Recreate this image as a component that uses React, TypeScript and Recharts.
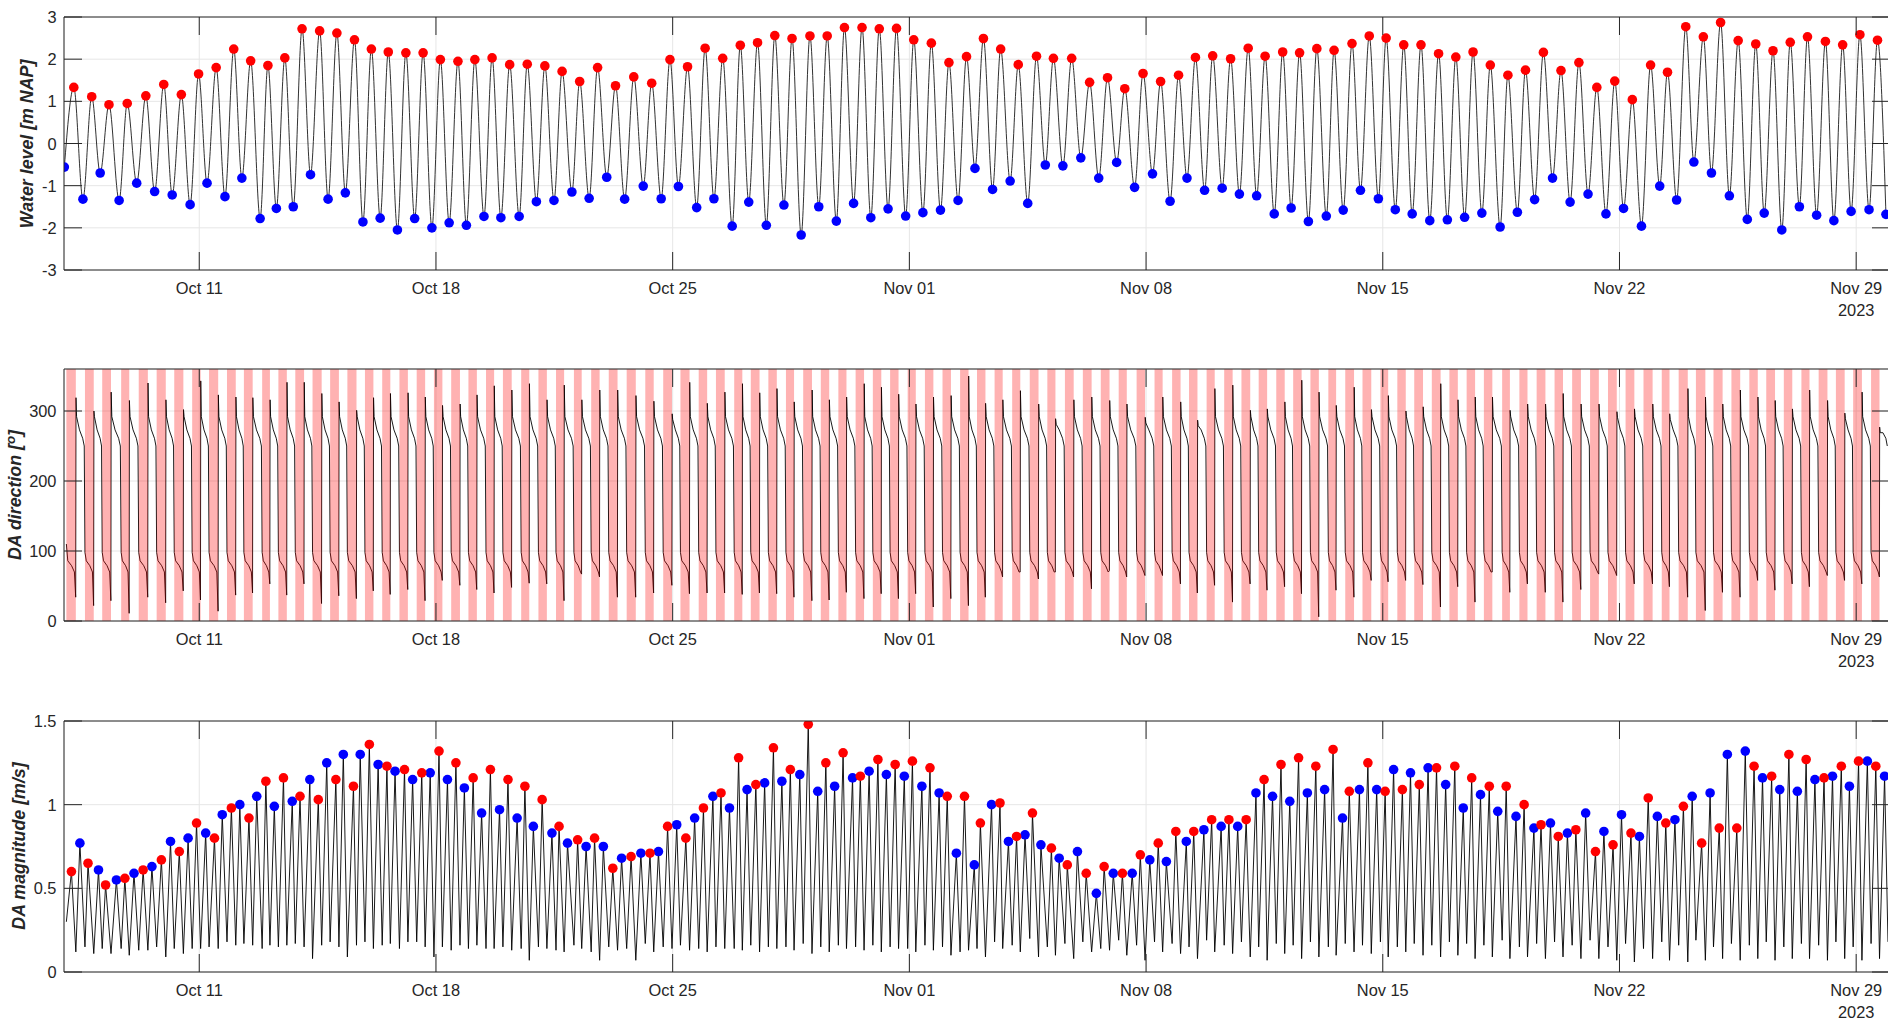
import React from "react";
import { ComposedChart, Line, XAxis, YAxis, CartesianGrid, ReferenceArea } from "recharts";

// time axis: days since 7 Oct 2023 00:00

// low water (blue dots) and high water (red dots), water level [m NAP]
const lwTime = [0.01, 0.56, 1.07, 1.63, 2.15, 2.68, 3.2, 3.73, 4.23, 4.76, 5.26, 5.8, 6.28, 6.78, 7.29, 7.81, 8.32, 8.84, 9.35, 9.86, 10.37, 10.88, 11.39, 11.9, 12.42, 12.92, 13.46, 13.97, 14.49, 15.02, 15.53, 16.05, 16.58, 17.13, 17.66, 18.17, 18.71, 19.22, 19.76, 20.25, 20.77, 21.29, 21.8, 22.32, 22.84, 23.35, 23.86, 24.37, 24.89, 25.4, 25.92, 26.44, 26.94, 27.46, 27.98, 28.5, 29.02, 29.54, 30.07, 30.6, 31.13, 31.66, 32.19, 32.71, 33.21, 33.73, 34.25, 34.76, 35.27, 35.79, 36.29, 36.8, 37.33, 37.83, 38.34, 38.87, 39.37, 39.87, 40.39, 40.91, 41.42, 41.93, 42.47, 42.98, 43.49, 44.02, 44.54, 45.07, 45.6, 46.12, 46.65, 47.19, 47.69, 48.2, 48.72, 49.25, 49.78, 50.28, 50.8, 51.32, 51.83, 52.34, 52.85, 53.38, 53.88];
const lwLevel = [-0.56, -1.32, -0.7, -1.35, -0.94, -1.14, -1.22, -1.45, -0.94, -1.26, -0.82, -1.78, -1.54, -1.5, -0.74, -1.32, -1.17, -1.86, -1.77, -2.05, -1.78, -2.0, -1.88, -1.94, -1.73, -1.76, -1.73, -1.38, -1.35, -1.15, -1.3, -0.8, -1.32, -1.01, -1.31, -1.02, -1.52, -1.31, -1.96, -1.39, -1.94, -1.46, -2.17, -1.5, -1.84, -1.42, -1.76, -1.55, -1.72, -1.64, -1.58, -1.35, -0.59, -1.09, -0.89, -1.42, -0.51, -0.53, -0.34, -0.82, -0.45, -1.04, -0.72, -1.37, -0.82, -1.11, -1.06, -1.2, -1.24, -1.67, -1.53, -1.85, -1.72, -1.58, -1.11, -1.31, -1.57, -1.67, -1.83, -1.81, -1.75, -1.65, -1.98, -1.63, -1.33, -0.82, -1.39, -1.2, -1.67, -1.54, -1.96, -1.01, -1.34, -0.44, -0.7, -1.24, -1.8, -1.65, -2.05, -1.5, -1.7, -1.83, -1.61, -1.57, -1.68];
const hwTime = [0.29, 0.82, 1.33, 1.87, 2.42, 2.95, 3.47, 3.98, 4.5, 5.02, 5.52, 6.03, 6.53, 7.04, 7.56, 8.07, 8.59, 9.09, 9.59, 10.11, 10.62, 11.13, 11.65, 12.15, 12.66, 13.18, 13.7, 14.22, 14.73, 15.25, 15.78, 16.31, 16.85, 17.38, 17.92, 18.44, 18.96, 19.48, 20.0, 20.51, 21.02, 21.53, 22.06, 22.57, 23.08, 23.6, 24.11, 24.62, 25.13, 25.65, 26.17, 26.69, 27.19, 27.7, 28.22, 28.76, 29.26, 29.8, 30.33, 30.86, 31.37, 31.91, 32.43, 32.96, 33.46, 33.97, 34.5, 35.02, 35.52, 36.04, 36.54, 37.05, 37.56, 38.09, 38.6, 39.1, 39.62, 40.13, 40.65, 41.16, 41.67, 42.18, 42.7, 43.22, 43.75, 44.27, 44.8, 45.33, 45.86, 46.38, 46.92, 47.42, 47.96, 48.48, 48.99, 49.51, 50.03, 50.54, 51.05, 51.56, 52.09, 52.6, 53.11, 53.63];
const hwLevel = [1.33, 1.11, 0.92, 0.95, 1.13, 1.4, 1.16, 1.65, 1.8, 2.24, 1.96, 1.85, 2.03, 2.72, 2.67, 2.62, 2.46, 2.24, 2.17, 2.15, 2.15, 1.99, 1.95, 1.99, 2.03, 1.87, 1.88, 1.84, 1.71, 1.47, 1.8, 1.37, 1.58, 1.43, 1.99, 1.82, 2.26, 2.02, 2.33, 2.39, 2.56, 2.49, 2.55, 2.55, 2.75, 2.75, 2.72, 2.73, 2.46, 2.38, 1.92, 2.06, 2.49, 2.24, 1.87, 2.07, 2.02, 2.02, 1.45, 1.56, 1.3, 1.66, 1.47, 1.62, 2.04, 2.08, 2.01, 2.26, 2.07, 2.17, 2.15, 2.25, 2.21, 2.37, 2.55, 2.5, 2.34, 2.34, 2.13, 2.05, 2.17, 1.86, 1.62, 1.74, 2.16, 1.73, 1.92, 1.33, 1.48, 1.04, 1.86, 1.69, 2.77, 2.53, 2.87, 2.44, 2.36, 2.2, 2.4, 2.53, 2.42, 2.34, 2.58, 2.45];

// current turns about 1.4 h after low / high water (edges of the flood shading)
const slackLag = 0.06;

// DA direction [deg]: spike right after each flood, and lowest value at the end of each flood
const dirPeak = [319, 300, 327, 315, 340, 316, 302, 343, 323, 320, 319, 316, 341, 341, 325, 313, 301, 319, 325, 326, 320, 308, 310, 323, 336, 330, 339, 316, 337, 316, 330, 330, 322, 314, 296, 341, 311, 327, 339, 326, 332, 313, 330, 316, 320, 339, 334, 324, 310, 320, 322, 350, 311, 316, 329, 310, 289, 316, 320, 315, 310, 291, 320, 313, 287, 332, 337, 301, 303, 313, 344, 327, 308, 334, 302, 322, 300, 306, 339, 316, 320, 320, 301, 310, 310, 325, 310, 310, 299, 303, 310, 296, 332, 320, 310, 330, 320, 315, 303, 330, 315, 297, 327, 277];
const dirMin = [34, 22, 29, 11, 34, 26, 43, 30, 14, 37, 40, 53, 37, 53, 25, 36, 32, 43, 38, 45, 29, 58, 51, 45, 40, 48, 54, 53, 29, 67, 63, 34, 34, 40, 51, 39, 40, 40, 38, 40, 39, 34, 29, 30, 41, 32, 39, 32, 39, 20, 32, 22, 34, 63, 70, 60, 70, 63, 46, 72, 63, 65, 65, 53, 40, 51, 27, 53, 44, 49, 39, 6, 44, 34, 58, 56, 58, 52, 20, 49, 27, 70, 41, 53, 41, 27, 45, 67, 65, 53, 53, 49, 34, 15, 41, 34, 58, 44, 53, 49, 65, 58, 53, 63];
// typical course within a phase: [fraction of phase, direction]
const floodShape = [[0, 98], [0.15, 86], [0.55, 79], [0.85, 70]];
const ebbShape = [[0.08, 292], [0.4, 273], [0.75, 261], [0.92, 250]];

// DA magnitude [m/s]: flood maxima (red), ebb maxima (blue), minima at slack
const floodPeakTime = [0.22, 0.71, 1.23, 1.8, 2.34, 2.88, 3.41, 3.92, 4.45, 4.95, 5.47, 5.97, 6.49, 6.98, 7.52, 8.04, 8.56, 9.03, 9.55, 10.07, 10.58, 11.09, 11.59, 12.1, 12.61, 13.13, 13.63, 14.14, 14.64, 15.19, 15.69, 16.23, 16.77, 17.33, 17.85, 18.39, 18.91, 19.43, 19.95, 20.46, 20.98, 21.48, 22.01, 22.53, 23.04, 23.55, 24.07, 24.58, 25.09, 25.61, 26.12, 26.63, 27.1, 27.68, 28.17, 28.64, 29.2, 29.67, 30.23, 30.76, 31.3, 31.83, 32.36, 32.88, 33.41, 33.94, 34.45, 34.96, 35.49, 35.99, 36.51, 37.02, 37.53, 38.01, 38.56, 39.07, 39.58, 40.08, 40.59, 41.13, 41.63, 42.15, 42.65, 43.18, 43.68, 44.19, 44.71, 45.29, 45.81, 46.34, 46.85, 47.37, 47.89, 48.43, 48.95, 49.47, 49.98, 50.5, 51.01, 51.52, 52.05, 52.56, 53.07, 53.58];
const floodPeak = [0.6, 0.65, 0.52, 0.56, 0.61, 0.67, 0.72, 0.89, 0.8, 0.98, 0.92, 1.14, 1.16, 1.05, 1.03, 1.15, 1.11, 1.36, 1.23, 1.21, 1.19, 1.32, 1.25, 1.16, 1.21, 1.15, 1.11, 1.03, 0.87, 0.79, 0.8, 0.62, 0.69, 0.71, 0.87, 0.8, 0.98, 1.07, 1.28, 1.12, 1.34, 1.21, 1.48, 1.25, 1.31, 1.17, 1.27, 1.24, 1.26, 1.22, 1.05, 1.05, 0.89, 1.01, 0.81, 0.95, 0.74, 0.64, 0.59, 0.63, 0.59, 0.7, 0.77, 0.84, 0.84, 0.91, 0.91, 0.91, 1.15, 1.24, 1.28, 1.23, 1.33, 1.08, 1.25, 1.08, 1.09, 1.12, 1.22, 1.23, 1.16, 1.11, 1.11, 1.0, 0.88, 0.81, 0.85, 0.72, 0.76, 0.83, 1.04, 0.89, 0.99, 0.77, 0.86, 0.86, 1.23, 1.17, 1.3, 1.27, 1.16, 1.23, 1.26, 1.23];
const ebbPeakTime = [0.47, 1.02, 1.55, 2.07, 2.6, 3.15, 3.67, 4.19, 4.68, 5.2, 5.7, 6.22, 6.75, 7.27, 7.77, 8.26, 8.76, 9.29, 9.79, 10.31, 10.83, 11.34, 11.84, 12.35, 12.88, 13.4, 13.88, 14.43, 14.89, 15.44, 15.95, 16.49, 17.06, 17.58, 18.12, 18.65, 19.19, 19.68, 20.2, 20.72, 21.23, 21.76, 22.29, 22.79, 23.32, 23.81, 24.32, 24.85, 25.37, 25.88, 26.39, 26.92, 27.43, 27.93, 28.42, 28.89, 29.43, 29.97, 30.53, 31.03, 31.59, 32.11, 32.6, 33.19, 33.71, 34.22, 34.71, 35.25, 35.74, 36.25, 36.77, 37.28, 37.81, 38.31, 38.82, 39.32, 39.82, 40.34, 40.86, 41.38, 41.89, 42.4, 42.94, 43.47, 43.96, 44.46, 45.0, 45.54, 46.06, 46.59, 47.12, 47.64, 48.15, 48.68, 49.19, 49.72, 50.23, 50.74, 51.26, 51.78, 52.3, 52.8, 53.33, 53.84];
const ebbPeak = [0.77, 0.61, 0.55, 0.59, 0.63, 0.78, 0.8, 0.83, 0.94, 1.0, 1.05, 0.99, 1.02, 1.15, 1.25, 1.3, 1.3, 1.24, 1.2, 1.15, 1.19, 1.15, 1.1, 0.95, 0.97, 0.92, 0.87, 0.83, 0.77, 0.75, 0.75, 0.68, 0.71, 0.72, 0.88, 0.92, 1.05, 0.98, 1.09, 1.13, 1.14, 1.18, 1.08, 1.11, 1.16, 1.2, 1.18, 1.17, 1.11, 1.07, 0.71, 0.64, 1.0, 0.78, 0.82, 0.76, 0.68, 0.72, 0.47, 0.59, 0.59, 0.67, 0.66, 0.78, 0.85, 0.87, 0.87, 1.07, 1.05, 1.02, 1.07, 1.09, 0.92, 1.09, 1.09, 1.21, 1.19, 1.22, 1.12, 0.98, 1.06, 0.96, 0.93, 0.86, 0.89, 0.83, 0.95, 0.84, 0.94, 0.81, 0.93, 0.91, 1.05, 1.07, 1.3, 1.32, 1.16, 1.09, 1.08, 1.15, 1.17, 1.11, 1.26, 1.17];
const floodStartMin = [0.3, 0.15, 0.14, 0.14, 0.13, 0.15, 0.14, 0.14, 0.15, 0.18, 0.17, 0.14, 0.15, 0.17, 0.08, 0.18, 0.09, 0.18, 0.16, 0.14, 0.18, 0.09, 0.13, 0.14, 0.14, 0.15, 0.14, 0.15, 0.13, 0.16, 0.12, 0.15, 0.14, 0.17, 0.15, 0.16, 0.14, 0.15, 0.14, 0.16, 0.15, 0.15, 0.17, 0.15, 0.16, 0.15, 0.16, 0.15, 0.14, 0.16, 0.15, 0.12, 0.14, 0.18, 0.16, 0.2, 0.15, 0.17, 0.18, 0.14, 0.19, 0.16, 0.18, 0.17, 0.15, 0.19, 0.16, 0.18, 0.15, 0.17, 0.16, 0.18, 0.15, 0.17, 0.16, 0.18, 0.15, 0.17, 0.16, 0.18, 0.17, 0.16, 0.19, 0.15, 0.17, 0.18, 0.16, 0.19, 0.15, 0.17, 0.14, 0.18, 0.16, 0.19, 0.15, 0.17, 0.16, 0.18, 0.15, 0.17, 0.16, 0.18, 0.15, 0.17, 0.18];
const floodEndMin = [0.12, 0.11, 0.11, 0.1, 0.13, 0.09, 0.11, 0.14, 0.14, 0.16, 0.16, 0.16, 0.16, 0.15, 0.16, 0.15, 0.16, 0.14, 0.17, 0.18, 0.15, 0.15, 0.16, 0.16, 0.14, 0.13, 0.07, 0.14, 0.12, 0.14, 0.07, 0.13, 0.07, 0.12, 0.14, 0.13, 0.12, 0.14, 0.13, 0.12, 0.14, 0.13, 0.11, 0.12, 0.14, 0.13, 0.12, 0.14, 0.12, 0.13, 0.1, 0.13, 0.09, 0.14, 0.12, 0.09, 0.1, 0.08, 0.12, 0.13, 0.1, 0.07, 0.12, 0.11, 0.08, 0.12, 0.11, 0.09, 0.07, 0.11, 0.08, 0.09, 0.1, 0.12, 0.11, 0.09, 0.12, 0.1, 0.09, 0.1, 0.08, 0.09, 0.08, 0.09, 0.08, 0.09, 0.08, 0.08, 0.07, 0.06, 0.08, 0.07, 0.06, 0.07, 0.08, 0.07, 0.08, 0.07, 0.08, 0.08, 0.07, 0.08, 0.07, 0.08];

const tickDays = [4, 11, 18, 25, 32, 39, 46, 53];
const tickNames = ["Oct 11", "Oct 18", "Oct 25", "Nov 01", "Nov 08", "Nov 15", "Nov 22", "Nov 29"];
const yearLabel = "2023";
const levelTicks = [-3, -2, -1, 0, 1, 2, 3];
const dirTicks = [0, 100, 200, 300];
const magTicks = [0, 0.5, 1, 1.5];

// ---- derived series ----
const floodStart = lwTime.map((t) => t + slackLag);
const floodEnd = hwTime.map((t) => t + slackLag);

const hwDots = hwTime.map((t, i) => ({ t, v: hwLevel[i] }));
const lwDots = lwTime.map((t, i) => ({ t, v: lwLevel[i] }));
const tideLine = [...hwDots, ...lwDots].sort((a, b) => a.t - b.t);

const dirLine: { t: number; v: number }[] = [];
floodEnd.forEach((e, i) => {
  const s = floodStart[i];
  const next = floodStart[i + 1];
  floodShape.forEach(([f, v], k) => dirLine.push({ t: s + f * (e - s), v: i === 0 && k === 0 ? 110 : v }));
  dirLine.push({ t: e - 0.004, v: dirMin[i] });
  dirLine.push({ t: e + 0.004, v: dirPeak[i] });
  ebbShape.forEach(([f, v]) => dirLine.push({ t: e + f * (next - e), v: Math.min(v, dirPeak[i] - 8) }));
});

const floodDots = floodPeakTime.map((t, i) => ({ t, v: floodPeak[i] }));
const ebbDots = ebbPeakTime.map((t, i) => ({ t, v: ebbPeak[i] }));
const magLine = [
  ...floodDots,
  ...ebbDots,
  ...floodStart.map((t, i) => ({ t, v: floodStartMin[i] })),
  ...floodEnd.map((t, i) => ({ t, v: floodEndMin[i] })),
].sort((a, b) => a.t - b.t);

// ---- layout ----
const W = 1900;
const PLOT_LEFT = 64;
const PLOT_RIGHT = 1890;
const TICK = 18;
const MT = 12;
const XH = 50;
const AXIS = "#262626";
const GRID = "#e6e6e6";
const FONT = '"Liberation Sans", Arial, Helvetica, sans-serif';
const TICK_FONT = 16.4;

const XTick = (props: any) => {
  const { x, payload, plotTop, plotBottom } = props;
  const i = tickDays.indexOf(payload.value);
  return (
    <g>
      <line x1={x} x2={x} y1={plotBottom} y2={plotBottom - TICK} stroke={AXIS} />
      <line x1={x} x2={x} y1={plotTop} y2={plotTop + TICK} stroke={AXIS} />
      <text x={x} y={plotBottom + 18} textAnchor="middle" dominantBaseline="central" fill={AXIS} fontSize={TICK_FONT} fontFamily={FONT}>
        {tickNames[i]}
      </text>
      {i === tickDays.length - 1 && (
        <text x={x} y={plotBottom + 39.5} textAnchor="middle" dominantBaseline="central" fill={AXIS} fontSize={TICK_FONT} fontFamily={FONT}>
          {yearLabel}
        </text>
      )}
    </g>
  );
};

const YTick = (props: any) => {
  const { y, payload } = props;
  return (
    <g>
      <line x1={PLOT_LEFT} x2={PLOT_LEFT + TICK} y1={y} y2={y} stroke={AXIS} />
      <line x1={PLOT_RIGHT} x2={PLOT_RIGHT - TICK} y1={y} y2={y} stroke={AXIS} />
      <text x={PLOT_LEFT - 7.5} y={y} textAnchor="end" dominantBaseline="central" fill={AXIS} fontSize={TICK_FONT} fontFamily={FONT}>
        {String(payload.value)}
      </text>
    </g>
  );
};

const Panel = ({ top, plotH, domain, ticks, children }: any) => {
  const plotTop = MT;
  const plotBottom = MT + plotH;
  return (
    <div style={{ position: "absolute", left: 0, top: top - MT }}>
      <ComposedChart
        width={W}
        height={MT + plotH + XH}
        margin={{ top: MT, right: W - PLOT_RIGHT, bottom: 0, left: 0 }}
      >
        <CartesianGrid stroke={GRID} />
        <XAxis
          dataKey="t"
          type="number"
          domain={[0, 54]}
          ticks={tickDays}
          interval={0}
          allowDataOverflow
          height={XH}
          axisLine={false}
          tickLine={false}
          tick={(p: any) => <XTick {...p} plotTop={plotTop} plotBottom={plotBottom} />}
        />
        <YAxis
          type="number"
          domain={domain}
          ticks={ticks}
          interval={0}
          allowDataOverflow
          width={PLOT_LEFT}
          axisLine={false}
          tickLine={false}
          tick={(p: any) => <YTick {...p} />}
        />
        {children}
        <ReferenceArea x1={0} x2={54} y1={domain[0]} y2={domain[1]} fill="none" stroke={AXIS} strokeWidth={1} ifOverflow="visible" zIndex={900} />
      </ComposedChart>
    </div>
  );
};

const labelStyle = (cx: number, cy: number): React.CSSProperties => ({
  position: "absolute",
  left: cx,
  top: cy,
  transform: "translate(-50%, -50%) rotate(-90deg)",
  whiteSpace: "nowrap",
  fontFamily: FONT,
  fontWeight: "bold",
  fontStyle: "italic",
  fontSize: 17.8,
  lineHeight: 1,
  color: AXIS,
});

const App = () => {
  return (
    <div style={{ position: "absolute", left: 0, top: 0, width: 1888, height: 1020, overflow: "hidden", background: "#fff" }}>
      {/* Water level */}
      <Panel top={17} plotH={253} domain={[-3, 3]} ticks={levelTicks}>
        <Line data={tideLine} dataKey="v" type="monotone" stroke="#1a1a1a" strokeWidth={0.9} dot={false} isAnimationActive={false} />
        <Line data={hwDots} dataKey="v" stroke="none" dot={{ r: 4.8, fill: "#ff0000", stroke: "none" }} activeDot={false} isAnimationActive={false} />
        <Line data={lwDots} dataKey="v" stroke="none" dot={{ r: 4.8, fill: "#0000ff", stroke: "none" }} activeDot={false} isAnimationActive={false} />
      </Panel>

      {/* DA direction with flood shading */}
      <Panel top={369} plotH={252} domain={[0, 360]} ticks={dirTicks}>
        <Line data={dirLine} dataKey="v" type="linear" stroke="#000" strokeWidth={0.9} dot={false} isAnimationActive={false} />
        {floodEnd.map((e, i) => (
          <ReferenceArea key={i} x1={floodStart[i]} x2={e} y1={0} y2={360} fill="#ff0000" fillOpacity={0.3} stroke="none" zIndex={600} />
        ))}
      </Panel>

      {/* DA magnitude */}
      <Panel top={721} plotH={251} domain={[0, 1.5]} ticks={magTicks}>
        <Line data={magLine} dataKey="v" type="linear" stroke="#000" strokeWidth={0.9} dot={false} isAnimationActive={false} />
        <Line data={ebbDots} dataKey="v" stroke="none" dot={{ r: 4.8, fill: "#0000ff", stroke: "none" }} activeDot={false} isAnimationActive={false} />
        <Line data={floodDots} dataKey="v" stroke="none" dot={{ r: 4.8, fill: "#ff0000", stroke: "none" }} activeDot={false} isAnimationActive={false} />
      </Panel>

      <div style={labelStyle(27.5, 143.5)}>Water level [m NAP]</div>
      <div style={labelStyle(15.7, 495)}>
        DA direction [<sup style={{ fontSize: "0.75em", lineHeight: 0, verticalAlign: "0.45em" }}>o</sup>]
      </div>
      <div style={labelStyle(20, 846)}>DA magnitude [m/s]</div>
    </div>
  );
};

export default App;
